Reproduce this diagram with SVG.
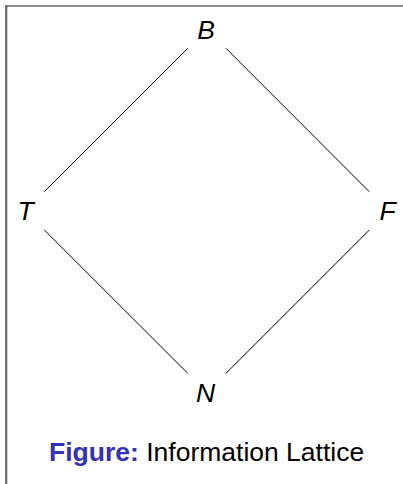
<svg xmlns="http://www.w3.org/2000/svg" width="403" height="484" viewBox="0 0 403 484">
<style>
.frame{stroke:#6a6a6a;fill:none}
.edge{stroke:#000;stroke-width:1;fill:none}
.lbl{font-family:"Liberation Sans",Arial,sans-serif;font-style:italic;font-size:26.5px;fill:#000;text-anchor:middle}
.cap{font-family:"Liberation Sans",Arial,sans-serif;font-size:26.5px;fill:#000}
.capb{font-weight:bold;fill:#3333b3}
</style>
<rect width="403" height="484" fill="#fff"/>
<g id="frame">
<line class="frame" x1="6.2" y1="5.5" x2="6.2" y2="484" stroke-width="2.2"/>
<line class="frame" x1="5" y1="6" x2="403" y2="6" stroke-width="1.6"/>
</g>
<g id="connectors">
<line class="edge" x1="187.7" y1="48.3" x2="44.3" y2="191.7"/>
<line class="edge" x1="226" y1="48.3" x2="369.3" y2="191.7"/>
<line class="edge" x1="44.3" y1="230" x2="187.7" y2="373.3"/>
<line class="edge" x1="369.3" y1="230" x2="226" y2="373.3"/>
</g>
<g id="node-B"><text class="lbl" x="206" y="39.3">B</text></g>
<g id="node-T"><text class="lbl" x="25.5" y="220">T</text></g>
<g id="node-F"><text class="lbl" x="387.5" y="220">F</text></g>
<g id="node-N"><text class="lbl" x="205.5" y="401.5">N</text></g>
<g id="caption"><text class="cap" x="49" y="460.7"><tspan class="capb">Figure:</tspan> Information Lattice</text></g>
</svg>
